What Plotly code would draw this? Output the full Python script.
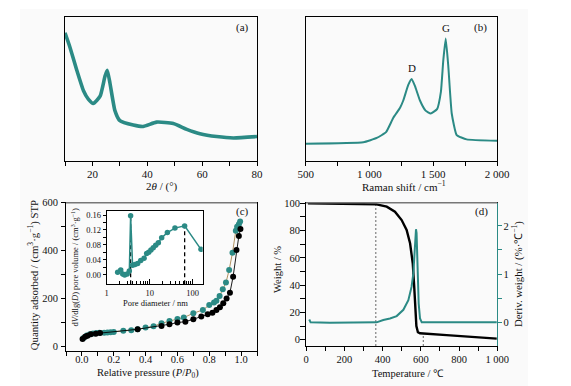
import plotly.graph_objects as go

W, H = 571, 386
TEAL = "#2b8a85"
FONT = "Liberation Serif"

# ---------------- data ----------------
# (a) XRD pattern (arbitrary intensity)
xrd_2theta = [10, 11.8, 14.3, 16.7, 18.5, 20.3, 22.8, 24.6, 25.4, 26.4, 28.2, 30, 34.9, 38.5, 43.4, 49.5, 54.4, 59.2, 65.3, 71.4, 80]
xrd_intensity = [89, 79, 63, 49, 43, 40, 45, 59, 63, 54, 35, 28, 25, 24, 27, 26, 22, 19, 17, 16, 17]

# (b) Raman spectrum (arbitrary intensity)
raman_shift = [500, 952, 1057, 1130, 1187, 1240, 1265, 1305, 1331, 1357, 1396, 1440, 1480, 1530, 1560, 1579, 1598, 1618, 1645, 1684, 1762, 2000]
raman_intensity = [12, 13, 16, 20, 30, 37, 42, 53, 57, 52, 42, 35, 33, 36, 48, 70, 85, 66, 33, 18, 15, 14]
raman_peaks = ["D", "G"]
raman_peak_x = [1331, 1598]
raman_peak_y = [57, 85]

# (c) N2 isotherm
ads_p = [0.01, 0.03, 0.05, 0.07, 0.09, 0.11, 0.14, 0.16, 0.18, 0.20, 0.26, 0.31, 0.35, 0.40, 0.45, 0.50, 0.55, 0.60, 0.64,
         0.70, 0.76, 0.80, 0.83, 0.845, 0.865, 0.885, 0.905, 0.925, 0.946, 0.967, 0.975, 0.986, 0.994]
ads_q = [35, 45, 50, 53, 55, 56, 57, 58, 59, 60, 65, 67, 71, 78, 84, 96, 106, 114, 120,
         138, 152, 172, 183, 190, 210, 238, 266, 319, 391, 483, 500, 510, 521]
des_p = [0.004, 0.02, 0.035, 0.056, 0.087, 0.114, 0.35, 0.50, 0.55, 0.60, 0.65, 0.70, 0.75, 0.79, 0.82, 0.845,
         0.867, 0.888, 0.909, 0.93, 0.95, 0.971, 0.986, 0.996]
des_q = [30, 40, 44, 50, 52, 55, 71, 85, 92, 99, 103, 113, 124, 134, 140, 152,
         163, 180, 200, 224, 291, 402, 461, 490]

# (c) inset pore size distribution
pore_d = [1.8, 2.12, 2.36, 2.62, 3.0, 3.36, 3.6, 4.0, 4.55, 5.25, 6.2, 7.4, 8.5, 9.5, 10.7, 12.1, 13.8, 15.9, 19, 25.8, 38.7, 65, 156]
pore_dv = [0.0064, 0.0126, 0.002, -0.001, 0.002, 0.01, 0.158, 0.025, 0.027, 0.030, 0.038, 0.044, 0.057, 0.060, 0.066,
           0.072, 0.079, 0.086, 0.099, 0.113, 0.125, 0.131, 0.068]
pore_marks = [3.6, 65]
pore_mark_tops = [0.158, 0.131]

# (d) TGA / DTG
tga_t = [10, 212, 369, 422, 465, 500, 526, 544, 558, 566, 571, 577, 585, 596, 735, 788, 909, 997]
tga_w = [100, 99.5, 99.2, 97.5, 93.8, 87.7, 80.4, 70.7, 56, 38, 25, 10, 5.5, 4.7, 3.4, 2.9, 1.8, 0.8]
dtg_t = [17, 24, 125, 300, 369, 404, 439, 474, 509, 535, 552, 561, 570, 575, 578, 583, 589, 596, 605, 735, 997]
dtg_d = [0.06, 0.0, -0.01, -0.01, 0.0, 0.05, 0.08, 0.13, 0.26, 0.46, 0.74, 1.01, 1.64, 1.93, 1.85, 1.01, 0.39, 0.08, 0.0, 0.0, 0.0]
tga_marks = [365, 613]
tga_mark_tops = [100.4, 4.4]

# tick positions (labelled / unlabelled)
ax_a, ax_a_minor = [20, 40, 60, 80], [10, 30, 50, 70]
ax_b, ax_b_minor = [500, 1000, 1500, 2000], [750, 1250, 1750]
ax_b_text = ["500", "1 000", "1 500", "2 000"]
ax_c, ax_c_minor = [0.0, 0.2, 0.4, 0.6, 0.8, 1.0], [-0.1, 0.1, 0.3, 0.5, 0.7, 0.9, 1.1]
ay_c, ay_c_minor = [0, 200, 400, 600], [100, 300, 500]
ax_d, ax_d_minor = [0, 200, 400, 600, 800, 1000], [100, 300, 500, 700, 900]
ax_d_text = ["0", "200", "400", "600", "800", "1 000"]
ay_d, ay_d_minor = [0, 20, 40, 60, 80, 100], [10, 30, 50, 70, 90]
ay_d2, ay_d2_minor = [0, 1, 2], [0.5, 1.5]
ax_in, ax_in_minor = [1, 10, 100], [2, 3, 4, 5, 6, 7, 8, 9, 20, 30, 40, 50, 60, 70, 80, 90]
ay_in, ay_in_minor = [0, 0.04, 0.08, 0.12, 0.16], [0.02, 0.06, 0.10, 0.14]


def dx(a, b):
    return [a / W, b / W]


def dy(top, bottom):
    return [1 - bottom / H, 1 - top / H]


fig = go.Figure()

# (a)
fig.add_trace(go.Scatter(x=xrd_2theta, y=xrd_intensity, xaxis="x", yaxis="y", mode="lines",
                         line=dict(color=TEAL, width=3.6, shape="spline", smoothing=0.5), showlegend=False))
# (b)
fig.add_trace(go.Scatter(x=raman_shift, y=raman_intensity, xaxis="x2", yaxis="y2", mode="lines",
                         line=dict(color=TEAL, width=2, shape="spline", smoothing=0.4), showlegend=False))
# (c)
fig.add_trace(go.Scatter(x=ads_p, y=ads_q, xaxis="x3", yaxis="y3", mode="lines+markers",
                         line=dict(color="#a8864f", width=0.9), marker=dict(color=TEAL, size=6),
                         showlegend=False))
fig.add_trace(go.Scatter(x=des_p, y=des_q, xaxis="x3", yaxis="y3", mode="lines+markers",
                         line=dict(color="black", width=0.9), marker=dict(color="black", size=6),
                         showlegend=False))
# inset
for xm, top in zip(pore_marks, pore_mark_tops):
    fig.add_trace(go.Scatter(x=[xm, xm], y=[-0.026, top], xaxis="x5", yaxis="y5", mode="lines",
                             line=dict(color="black", width=1.3, dash="4px,3px"), showlegend=False))
fig.add_trace(go.Scatter(x=pore_d, y=pore_dv, xaxis="x5", yaxis="y5", mode="lines+markers",
                         line=dict(color=TEAL, width=1.5), marker=dict(color=TEAL, size=5.5),
                         showlegend=False))
# (d)
for xm, top in zip(tga_marks, tga_mark_tops):
    fig.add_trace(go.Scatter(x=[xm, xm], y=[-4.6, top], xaxis="x4", yaxis="y4", mode="lines",
                             line=dict(color="#666666", width=1, dash="2px,2px"), showlegend=False))
fig.add_trace(go.Scatter(x=dtg_t, y=dtg_d, xaxis="x4", yaxis="y6", mode="lines",
                         line=dict(color=TEAL, width=2), showlegend=False))
fig.add_trace(go.Scatter(x=tga_t, y=tga_w, xaxis="x4", yaxis="y4", mode="lines",
                         line=dict(color="black", width=2.4), showlegend=False))

tf = dict(family=FONT, size=11, color="#111111")
tf_mid = dict(family=FONT, size=10.5, color="#111111")
tf_small = dict(family=FONT, size=8.5, color="#111111")
common = dict(showgrid=False, zeroline=False, showline=True, linecolor="black", linewidth=1,
              ticks="outside", ticklen=4, tickwidth=1, tickcolor="black", tickfont=tf, automargin=False)


def mn(vals, length=4, color="black", ticks="outside"):
    return dict(tickvals=vals, ticks=ticks, ticklen=length, tickwidth=1, tickcolor=color, showgrid=False)


fig.update_layout(
    width=W, height=386, autosize=False,
    margin=dict(l=0, r=0, t=0, b=0, pad=0, autoexpand=False),
    paper_bgcolor="white", plot_bgcolor="rgba(0,0,0,0)",
    font=dict(family=FONT, size=11, color="#111111"),
    xaxis=dict(common, domain=dx(65, 257), range=[10, 80], anchor="y", mirror=True, ticklabelstandoff=-1,
               tickvals=ax_a, ticktext=[str(v) for v in ax_a], minor=mn(ax_a_minor)),
    yaxis=dict(common, domain=dy(17, 161), range=[0, 100], anchor="x", mirror=True,
               ticks="", showticklabels=False),
    xaxis2=dict(common, domain=dx(305.7, 497), range=[500, 2000], anchor="y2", mirror=True, ticklabelstandoff=-1,
                tickvals=ax_b, ticktext=ax_b_text, minor=mn(ax_b_minor)),
    yaxis2=dict(common, domain=dy(17, 161), range=[0, 100], anchor="x2", mirror=True,
                ticks="", showticklabels=False),
    xaxis3=dict(common, domain=dx(66, 257), range=[-0.1, 1.1], anchor="y3", mirror=True,
                tickfont=tf_mid, ticklabelstandoff=-6,
                tickvals=ax_c, ticktext=[f"{v:.1f}" for v in ax_c], minor=mn(ax_c_minor)),
    yaxis3=dict(common, domain=dy(202.7, 351.3), range=[-21, 600], anchor="x3", mirror=True,
                tickfont=tf_mid, ticklabelstandoff=1,
                tickvals=ay_c, ticktext=[str(v) for v in ay_c], minor=mn(ay_c_minor)),
    xaxis4=dict(common, domain=dx(306, 497.3), range=[0, 1000], anchor="y4", mirror=True,
                tickfont=tf_mid, ticklabelstandoff=-1,
                tickvals=ax_d, ticktext=ax_d_text, minor=mn(ax_d_minor)),
    yaxis4=dict(common, domain=dy(202.7, 346), range=[-4.6, 100.4], anchor="x4", ticklen=5,
                tickfont=tf_mid, ticklabelstandoff=-2,
                tickvals=ay_d, ticktext=[str(v) for v in ay_d], minor=mn(ay_d_minor, 5)),
    yaxis6=dict(common, overlaying="y4", side="right", anchor="x4", range=[-0.49, 2.48],
                linecolor=TEAL, tickcolor=TEAL, ticklen=4, tickfont=tf_mid, ticklabelstandoff=-1,
                tickvals=ay_d2, ticktext=[str(v) for v in ay_d2], minor=mn(ay_d2_minor, 4, TEAL)),
    xaxis5=dict(common, domain=dx(106.7, 202.7), type="log", range=[0, 2.233], anchor="y5", mirror=True,
                ticks="inside", ticklen=5, tickvals=ax_in, ticktext=[str(v) for v in ax_in], tickfont=tf_small,
                minor=mn(ax_in_minor, 3, "black", "inside")),
    yaxis5=dict(common, domain=dy(211, 284.3), range=[-0.026, 0.171], anchor="x5", mirror=True,
                ticklen=3, tickvals=ay_in, ticktext=[f"{v:.2f}" for v in ay_in], tickfont=tf_small,
                minor=mn(ay_in_minor, 3)),
)

# background, inset box, top lines
fig.add_shape(type="rect", xref="paper", yref="paper", x0=20 / W, x1=528 / W, y0=0, y1=1 - 9 / H,
              fillcolor="#fafafa", line=dict(width=0), layer="below")
fig.add_shape(type="rect", xref="paper", yref="paper", x0=106.7 / W, x1=202.7 / W, y0=1 - 284.3 / H, y1=1 - 211 / H,
              fillcolor="white", line=dict(width=0), layer="below")
for a, b in [(66, 257), (306, 497.3)]:
    fig.add_shape(type="line", xref="paper", yref="paper", x0=a / W, x1=b / W, y0=1 - 202.7 / H, y1=1 - 202.7 / H,
                  line=dict(color="#777777", width=1.6))


def ann(text, x, y, size=11, angle=0, **kw):
    fig.add_annotation(text=text, x=x / W, y=1 - y / H, xref="paper", yref="paper", showarrow=False,
                       textangle=angle, font=dict(family=FONT, size=size, color="#111111"),
                       xanchor="center", yanchor="middle", **kw)


ann("(a)", 242.7, 27.3)
ann("(b)", 480.7, 27.3)
ann("(c)", 242.3, 211.7)
ann("(d)", 481, 211.7)
ann("2<i>θ</i> / (°)", 162.3, 186.5, size=11)
ann("Raman shift / cm<sup>−1</sup>", 404, 186.5, size=11)
ann("Relative pressure (<i>P</i>/<i>P</i><sub>0</sub>)", 148, 373.3, size=10.5)
ann("Temperature / ℃", 408.3, 373.3, size=10.5)
ann("Quantity adsorbed / (cm<sup>3</sup>·g<sup>−1</sup>) STP", 33.3, 275, size=10.8, angle=-90)
ann("Weight / %", 277, 270, size=10.5, angle=-90)
ann("Deriv. weight / (%·℃<sup>−1</sup>)", 517, 274, size=10.8, angle=-90)
ann("d<i>V</i>/dlg(<i>D</i>) pore volume / (cm<sup>3</sup>·g<sup>−1</sup>)", 75, 267.5, size=8.5, angle=-90)
ann("Pore diameter / nm", 155, 303.3, size=8.5)

for t, px, py in zip(raman_peaks, raman_peak_x, raman_peak_y):
    fig.add_annotation(text=t, x=px, y=py, xref="x2", yref="y2", showarrow=False, yshift=11,
                       font=dict(family=FONT, size=11, color="#111111"))

fig.write_html("out.html", config={"responsive": False, "displayModeBar": False},
               post_script="document.body.style.margin='0';document.body.style.overflow='hidden';")
